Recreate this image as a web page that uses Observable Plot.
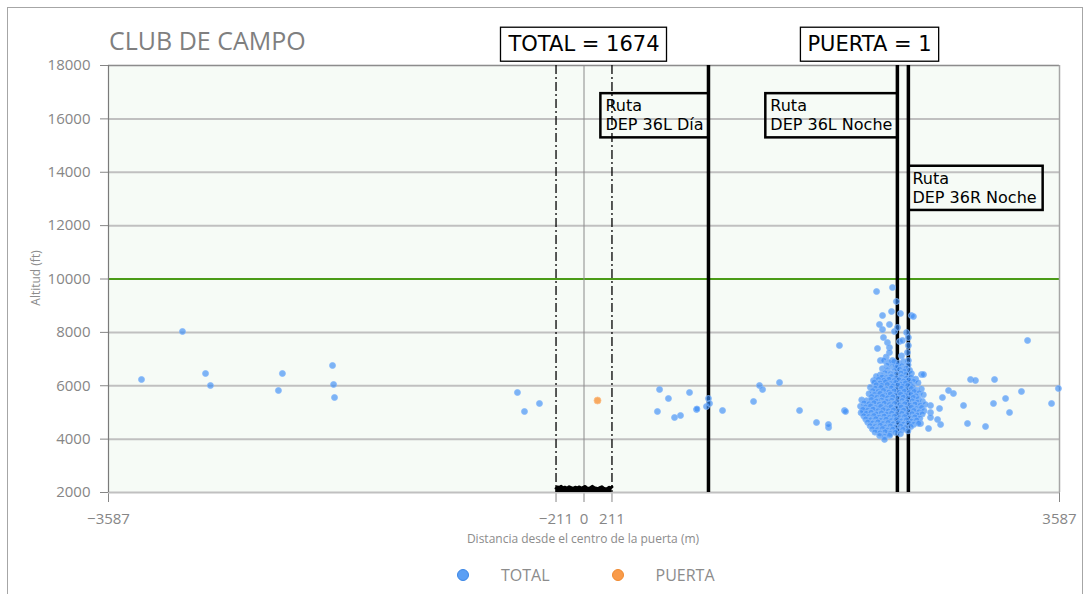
<!DOCTYPE html>
<html><head><meta charset="utf-8">
<script src="https://cdn.jsdelivr.net/npm/d3@7"></script>
<script src="https://cdn.jsdelivr.net/npm/@observablehq/plot@0.6"></script>
<style>
body{margin:0;background:#fff;width:1091px;height:594px;overflow:hidden;position:relative;font-family:"Open Sans",sans-serif;}
#border{position:absolute;left:7px;top:7px;width:1074px;height:640px;border:1px solid #a6a6a6;}
#chart{position:absolute;left:0;top:0;}
#title{position:absolute;left:109px;top:25px;font-size:25px;line-height:30px;color:#7f7f7f;white-space:nowrap;}
#ylabel{position:absolute;left:35px;top:278px;transform:translate(-50%,-50%) rotate(-90deg);font-size:12px;color:#8c8c8c;white-space:nowrap;}
#xlabel{position:absolute;left:583px;top:538px;transform:translate(-50%,-50%);font-size:12px;color:#8c8c8c;white-space:nowrap;}
#legend{position:absolute;left:457px;top:563px;height:24px;display:flex;align-items:center;font-size:16px;color:#8c8c8c;}
#legend .item{display:flex;align-items:center;margin-right:62px;}
#legend .sw{width:12px;height:12px;border-radius:50%;margin-right:32px;box-sizing:border-box;}
</style></head>
<body>
<div id="border"></div>
<div id="chart"></div>
<div id="title"></div>
<div id="ylabel"></div>
<div id="xlabel"></div>
<div id="legend"></div>
<script>
// ---------- data ----------
const chartTitle = "CLUB DE CAMPO";
const yLabel = "Altitud (ft)";
const xLabel = "Distancia desde el centro de la puerta (m)";
const xDomain = [-3587, 3587];
const xTicks = [-3587, -211, 0, 211, 3587];
const yDomain = [2000, 18000];
const yTicks = [2000, 4000, 6000, 8000, 10000, 12000, 14000, 16000, 18000];
const limitAlt = 10000;
const gateEdges = [-211, 211];
const gateCenter = 0;
const seriesNames = ["TOTAL", "PUERTA"];
const totalCount = 1674;
const puertaCount = 1;
const routeNames = ["Ruta\nDEP 36L Día", "Ruta\nDEP 36L Noche", "Ruta\nDEP 36R Noche"];
const routeDist = [939, 2364, 2447];
const routeLabelAlt = [16800, 16800, 14080];
const routeLabelSide = ["end", "end", "start"];
const countLabelDist = [0, 2154];

// [distance (m), altitude (ft)]
const totalPoints = [
  [-3338,6234],[-3029,8033],[-2855,6459],[-2818,6009],[-2305,5822],[-2275,6459],[-1897,6759],[-1882,5560],[-1889,6047],
  [-502,5747],[-449,5035],[-336,5335],
  [570,5859],[637,5522],[796,5747],[554,5035],[683,4810],[728,4885],[849,5110],[852,5130],[924,5222],[939,5522],[947,5335],
  [1045,5072],[1279,5410],[1324,6009],[1347,5859],[1475,6122],[1626,5072],[1754,4623],[1845,4435],[1927,7508],[1844,4548],
  [1965,5072],[1973,5035],[2109,5035],
  [2750,5822],[2787,5710],[2704,5560],[2614,5260],[2614,4998],[2614,4810],[2682,5147],[2667,4735],[2690,4548],[2599,4398],[2539,4585],
  [2546,6421],[2561,6421],[2184,6196],
  [2863,5260],[2916,6234],[2953,6197],[2893,4585],[3029,4473],[3097,6234],[3089,5335],[3180,5522],[3210,4998],[3300,5785],
  [3346,7696],[3527,5335],[3579,5897],
  [2207,9531],[2327,9681],[2357,9157],[2387,8707],[2320,8782],[2252,8632],[2470,8632],[2485,8595],[2229,8295],[2304,8295],
  [2252,8108],[2342,8033],[2365,8183],[2380,7658],[2433,7995],[2259,7808],[2289,7621],[2214,7396],[2304,7433],[2402,7696],
  [2447,7808],[2447,7508],[2304,7246],[2440,7246],[2236,6946],[2327,6946],[2447,6946],[2357,6759],[2395,7120],[2280,7080],
  [2262,6950],[2301,6880],[2338,6910],[2372,6840],[2410,6905],[2445,6780],[2285,6760],[2325,6720],[2360,6690],[2398,6745],
  [2430,6650],[2251,6640],[2290,6590],[2342,6560],[2381,6610],[2417,6540],[2456,6580],[2270,6480],[2312,6450],[2355,6430],
  [2391,6470],[2428,6420],[2470,6460],[2236,6410],
  [2205,6350],[2248,6320],[2283,6300],[2319,6340],[2357,6290],[2395,6330],[2432,6280],[2466,6310],[2502,6250],[2221,6230],
  [2262,6200],[2301,6240],[2339,6190],[2376,6220],[2412,6170],[2450,6210],[2488,6160],[2190,6130],[2233,6100],[2274,6140],
  [2314,6080],[2352,6120],[2389,6060],[2425,6100],[2461,6050],[2520,6110],[2205,6030],[2246,6010],[2288,6040],[2329,5990],
  [2368,6020],[2405,5970],[2442,6005],[2479,5960],
  [2160,5940],[2198,5900],[2240,5930],[2281,5880],[2318,5915],[2357,5860],[2394,5900],[2433,5850],[2470,5890],[2508,5840],
  [2545,5880],[2178,5810],[2219,5780],[2259,5820],[2300,5760],[2339,5800],[2377,5750],[2416,5790],[2453,5740],[2491,5780],
  [2529,5730],[2150,5700],[2192,5670],[2233,5710],[2272,5650],[2311,5690],[2350,5640],[2389,5680],[2428,5630],[2466,5670],
  [2505,5620],[2560,5660],[2170,5590],[2210,5560],[2252,5600],[2291,5540],[2330,5580],[2369,5530],[2408,5570],[2446,5520],
  [2484,5560],[2522,5510],
  [2095,5470],[2131,5440],[2168,5480],[2206,5420],[2245,5460],[2284,5410],[2322,5450],[2361,5400],[2400,5440],[2438,5390],
  [2477,5430],[2515,5380],[2553,5420],[2112,5350],[2150,5320],[2188,5360],[2227,5300],[2265,5340],[2304,5290],[2343,5330],
  [2381,5280],[2420,5320],[2458,5270],[2497,5310],[2536,5260],[2574,5300],[2086,5230],[2124,5200],[2162,5240],[2200,5180],
  [2239,5220],[2278,5170],[2316,5210],[2355,5160],[2393,5200],[2432,5150],[2470,5190],[2509,5140],[2547,5180],[2103,5110],
  [2141,5080],[2180,5120],[2218,5060],[2257,5100],[2296,5050],[2334,5090],[2373,5040],[2411,5080],[2450,5030],[2488,5070],
  [2527,5020],[2565,5060],
  [2090,4990],[2128,4960],[2166,5000],[2205,4940],[2244,4980],[2283,4930],[2321,4970],[2360,4920],[2398,4960],[2437,4910],
  [2475,4950],[2514,4900],[2552,4940],[2110,4870],[2148,4840],[2187,4880],[2226,4820],[2264,4860],[2303,4810],[2342,4850],
  [2380,4800],[2419,4840],[2457,4790],[2496,4830],[2534,4780],[2125,4750],[2163,4720],[2202,4760],[2240,4700],[2279,4740],
  [2318,4690],[2356,4730],[2395,4680],[2433,4720],[2472,4670],[2510,4710],[2140,4630],[2178,4600],[2217,4640],[2256,4580],
  [2294,4620],[2333,4570],[2371,4610],[2410,4560],[2448,4600],[2487,4550],[2525,4590],
  [2158,4500],[2196,4470],[2235,4510],[2273,4450],[2312,4490],[2350,4440],[2389,4480],[2427,4430],[2466,4470],[2175,4380],
  [2213,4350],[2252,4390],[2290,4330],[2329,4370],[2367,4320],[2406,4360],[2444,4310],[2195,4260],[2233,4230],[2272,4270],
  [2310,4210],[2349,4250],[2387,4200],[2230,4130],[2268,4100],[2306,4140],[2267,3990]
];
const puertaPoints = [[102,5447]];
// black trace at ground level inside the gate
const groundTrace = [
  [-211,2150],[-200,2210],[-185,2190],[-172,2230],[-160,2170],[-145,2200],[-128,2160],[-112,2215],[-96,2180],[-80,2150],
  [-66,2200],[-50,2170],[-35,2210],[-20,2160],[-6,2195],[8,2225],[22,2170],[36,2150],[50,2190],[64,2230],[78,2180],[92,2160],
  [106,2140],[120,2185],[134,2215],[148,2160],[162,2135],[176,2150],[190,2195],[200,2170],[211,2210]
];

// ---------- texts ----------
document.getElementById("title").textContent = chartTitle;
document.getElementById("ylabel").textContent = yLabel;
document.getElementById("xlabel").textContent = xLabel;
const legendColors = {TOTAL: ["#5b9ff4", "#3b86e6"], PUERTA: ["#f99b4a", "#f08a30"]};
const leg = document.getElementById("legend");
seriesNames.forEach(n => {
  const it = document.createElement("div"); it.className = "item";
  const sw = document.createElement("div"); sw.className = "sw";
  sw.style.background = legendColors[n][0]; sw.style.border = `1.5px solid ${legendColors[n][1]}`;
  const tx = document.createElement("span"); tx.textContent = n;
  it.append(sw, tx); leg.append(it);
});

const routeIdx = routeNames.map((_, i) => i);
const countLabels = [
  {x: countLabelDist[0], text: `TOTAL = ${totalCount}`},
  {x: countLabelDist[1], text: `PUERTA = ${puertaCount}`}
];

const svg = Plot.plot({
  width: 1091, height: 560,
  marginLeft: 108, marginRight: 32, marginTop: 65, marginBottom: 68,
  style: {fontFamily: "'Open Sans', sans-serif", fontSize: "15px", color: "#868686", background: "transparent", overflow: "visible"},
  x: {domain: xDomain, ticks: xTicks, tickFormat: d3.format("d"), tickSize: 10, tickPadding: 11, label: null},
  y: {domain: yDomain, ticks: yTicks, tickFormat: d3.format("d"), tickSize: 8, tickPadding: 10, label: null},
  marks: [
    Plot.frame({fill: "#f6fbf6", stroke: "none"}),
    Plot.ruleY(yTicks, {stroke: "#c0c0c0", strokeWidth: 2}),
    Plot.ruleY([yDomain[1]], {stroke: "#8c8c8c", strokeWidth: 1}),
    Plot.ruleY([limitAlt], {stroke: "#4a9b17", strokeWidth: 2}),
    Plot.ruleX([xDomain[0]], {stroke: "#7a7a7a", strokeWidth: 1.2}),
    Plot.ruleX([xDomain[1]], {stroke: "#a6a6a6", strokeWidth: 1.5}),
    Plot.ruleX([gateCenter], {stroke: "#8a8a8a", strokeWidth: 1}),
    Plot.ruleX(gateEdges, {stroke: "black", strokeWidth: 1.3, strokeDasharray: "9,3,2,3"}),
    Plot.ruleX(routeDist, {stroke: "black", strokeWidth: 3.5}),
    Plot.dot(totalPoints, {x: d => d[0], y: d => d[1], r: 3, fill: "#3b8cf5", fillOpacity: 0.65, stroke: "#86b9fb", strokeWidth: 0.8}),
    Plot.dot(puertaPoints, {x: d => d[0], y: d => d[1], r: 3.5, fill: "#f7a050", fillOpacity: 0.9, stroke: "#fbc08a", strokeWidth: 0.8}),
    Plot.areaY(groundTrace, {x: d => d[0], y1: yDomain[0], y2: d => d[1], fill: "black"}),
    Plot.line(groundTrace, {x: d => d[0], y: d => d[1], stroke: "black", strokeWidth: 3}),
    Plot.text(routeIdx.filter(i => routeLabelSide[i] === "end"), {
      x: i => routeDist[i], y: i => routeLabelAlt[i], text: i => routeNames[i],
      textAnchor: "end", lineAnchor: "top", lineHeight: 1.2, dx: -5,
      fontFamily: "'DejaVu Sans'", fontSize: 16, fill: "black"
    }),
    Plot.text(routeIdx.filter(i => routeLabelSide[i] === "start"), {
      x: i => routeDist[i], y: i => routeLabelAlt[i], text: i => routeNames[i],
      textAnchor: "start", lineAnchor: "top", lineHeight: 1.2, dx: 4,
      fontFamily: "'DejaVu Sans'", fontSize: 16, fill: "black"
    }),
    Plot.text(countLabels, {
      x: "x", text: "text", frameAnchor: "top", dy: -21, lineAnchor: "middle",
      fontFamily: "'DejaVu Sans'", fontSize: 21, fill: "black"
    })
  ]
});
document.getElementById("chart").append(svg);

// draw a box around each label; end-anchored multi-line labels get left-aligned lines inside their box
function boxify(contents, pad, strokeWidth, fill, leftAlign) {
  const wanted = new Set(contents.map(s => s.replace(/\n/g, "")));
  svg.querySelectorAll("text").forEach(t => {
    if (!wanted.has(t.textContent.replace(/\n/g, ""))) return;
    const bb = t.getBBox();
    const tr = t.getAttribute("transform") || "";
    if (leftAlign) {
      t.setAttribute("text-anchor", "start");
      t.querySelectorAll("tspan").forEach(s => s.setAttribute("text-anchor", "start"));
      const bb2 = t.getBBox();
      t.setAttribute("transform", `${tr} translate(${bb.x - bb2.x},0)`);
    }
    const r = document.createElementNS("http://www.w3.org/2000/svg", "rect");
    r.setAttribute("x", bb.x - pad.l);
    r.setAttribute("y", bb.y - pad.t);
    r.setAttribute("width", bb.width + pad.l + pad.r);
    r.setAttribute("height", bb.height + pad.t + pad.b);
    if (tr) r.setAttribute("transform", tr);
    r.setAttribute("fill", fill);
    r.setAttribute("stroke", "black");
    r.setAttribute("stroke-width", strokeWidth);
    t.parentNode.insertBefore(r, t);
  });
}
boxify(routeNames.filter((_, i) => routeLabelSide[i] === "end"), {l: 5, r: 5, t: 3, b: 3}, 2.5, "none", true);
boxify(routeNames.filter((_, i) => routeLabelSide[i] === "start"), {l: 4, r: 6, t: 3, b: 3}, 2.5, "none", false);
boxify(countLabels.map(d => d.text), {l: 7, r: 7, t: 5, b: 5}, 1.3, "white", false);
</script>
</body></html>
